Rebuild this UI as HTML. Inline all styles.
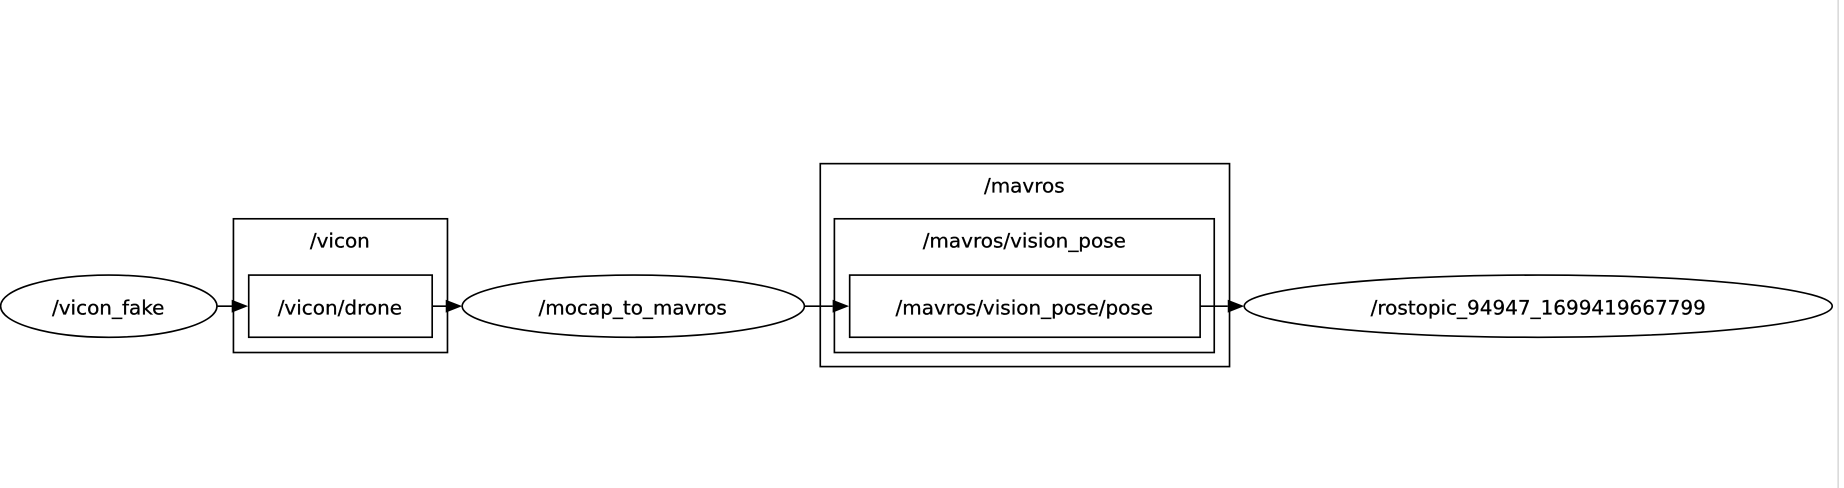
<!DOCTYPE html>
<html><head><meta charset="utf-8"><style>
html,body{margin:0;padding:0;background:#fff;width:1844px;height:488px;overflow:hidden}
svg{display:block}
text{font-family:"DejaVu Sans","Liberation Sans",sans-serif;font-size:17px;fill:#000;stroke:#000;stroke-width:0.25;text-anchor:middle;dominant-baseline:central}
</style></head><body>
<svg width="1844" height="488" viewBox="0 0 1568 416" preserveAspectRatio="none" xmlns="http://www.w3.org/2000/svg">
<g fill="none" stroke="#000" stroke-width="1.4">
<ellipse cx="92.5" cy="261" rx="92" ry="26.5"/>
<rect x="198.5" y="186.5" width="182" height="114"/>
<rect x="211.5" y="234.5" width="156" height="53"/>
<ellipse cx="538.5" cy="261" rx="145.5" ry="26.5"/>
<rect x="697.5" y="139.5" width="348" height="173"/>
<rect x="709.5" y="186.5" width="323" height="114"/>
<rect x="722.5" y="234.5" width="298" height="53"/>
<ellipse cx="1308" cy="261" rx="250" ry="26.5"/>
<line x1="185" y1="261" x2="198" y2="261"/>
<line x1="367" y1="261" x2="380" y2="261"/>
<line x1="684" y1="261" x2="708" y2="261"/>
<line x1="1020" y1="261" x2="1044" y2="261"/>
</g>
<g fill="#000">
<polygon points="197,255.5 211,261 197,266.5"/>
<polygon points="379,255.5 393,261 379,266.5"/>
<polygon points="708,255.5 722,261 708,266.5"/>
<polygon points="1044,255.5 1058,261 1044,266.5"/>
</g>
<line x1="1563" y1="0" x2="1563" y2="416" stroke="#ccc" stroke-width="1"/>
<text x="92" y="262">/vicon_fake</text>
<text x="289" y="205">/vicon</text>
<text x="289" y="262">/vicon/drone</text>
<text x="538" y="262">/mocap_to_mavros</text>
<text x="871" y="158">/mavros</text>
<text x="871" y="205">/mavros/vision_pose</text>
<text x="871" y="262">/mavros/vision_pose/pose</text>
<text x="1308" y="262">/rostopic_94947_1699419667799</text>
</svg>
</body></html>
